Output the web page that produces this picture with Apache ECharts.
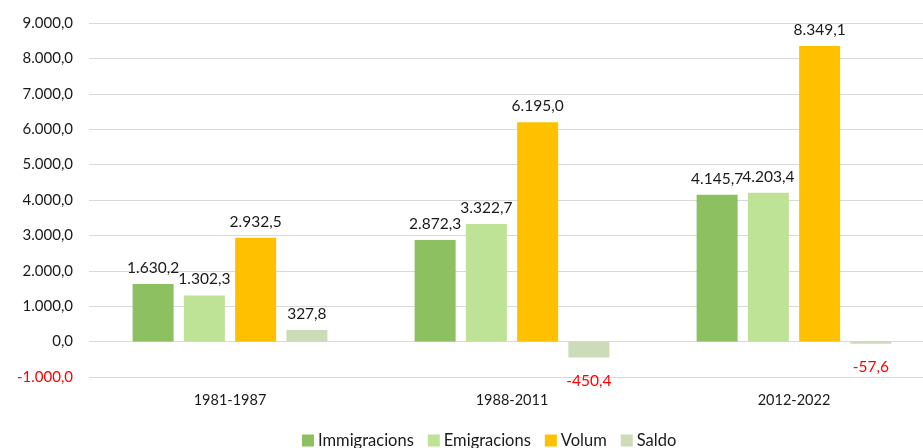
<!DOCTYPE html>
<html>
<head>
<meta charset="utf-8">
<script src="https://cdn.jsdelivr.net/npm/echarts@6/dist/echarts.min.js"></script>
<style>
html,body{margin:0;padding:0;background:#fff;}
#main{width:923px;height:448px;}
</style>
</head>
<body>
<div id="main"></div>
<script>
var periods = ['1981-1987', '1988-2011', '2012-2022'];
var seriesNames = ['Immigracions', 'Emigracions', 'Volum', 'Saldo'];
var immigracions = [1630.2, 2872.3, 4145.7];
var emigracions = [1302.3, 3322.7, 4203.4];
var volum = [2932.5, 6195.0, 8349.1];
var saldo = [327.8, -450.4, -57.6];
var colors = ['#8dc060', '#bfe396', '#ffc000', '#cddbb8'];

function fmt(v){
	var neg = v < 0;
	var s = Math.abs(v).toFixed(1).split('.');
	var ent = s[0].replace(/\B(?=(\d{3})+(?!\d))/g, '.');
	return (neg ? '-' : '') + ent + ',' + s[1];
}

var chart = echarts.init(document.getElementById('main'));
var dataSets = [immigracions, emigracions, volum, saldo];
var series = [];
for (var i = 0; i < seriesNames.length; i++) {
	series.push({
		name: seriesNames[i],
		type: 'bar',
		barWidth: 41,
		barGap: '25%',
		itemStyle: {color: colors[i]},
		data: dataSets[i].map(function(v){
			return {
				value: v,
				label: v < 0 ? {position: 'bottom', color: '#ff0000', distance: 15} : {position: 'top'}
			};
		}),
		label: {
			show: true,
			fontFamily: 'Lato',
			fontSize: 15.5,
			color: '#1a1a1a',
			distance: 8,
			formatter: function(p){ return fmt(p.value); }
		}
	});
}

chart.setOption({
	animation: false,
	grid: {left: 89, right: -12, top: 23, bottom: 71, containLabel: false, outerBoundsMode: 'none'},
	legend: {
		bottom: -6,
		left: 297,
		itemWidth: 12,
		itemHeight: 12,
		itemGap: 14,
		icon: 'rect',
		textStyle: {fontFamily: 'Lato', fontSize: 16.5, color: '#1a1a1a', padding: [0, 0, 0, -1]},
		data: seriesNames
	},
	xAxis: {
		type: 'category',
		data: periods,
		position: 'bottom',
		axisLine: {show: false, onZero: false},
		axisTick: {show: false},
		axisLabel: {fontFamily: 'Lato', fontSize: 14.5, color: '#1a1a1a', margin: 16}
	},
	yAxis: {
		type: 'value',
		min: -1000,
		max: 9000,
		interval: 1000,
		axisLine: {show: false},
		axisTick: {show: false},
		splitLine: {lineStyle: {color: '#d9d9d9', width: 1}},
		axisLabel: {
			fontFamily: 'Lato',
			fontSize: 15,
			margin: 16,
			color: function(v){ return v < 0 ? '#ff0000' : '#1a1a1a'; },
			formatter: function(v){ return fmt(v); }
		}
	},
	series: series
});
</script>
</body>
</html>
